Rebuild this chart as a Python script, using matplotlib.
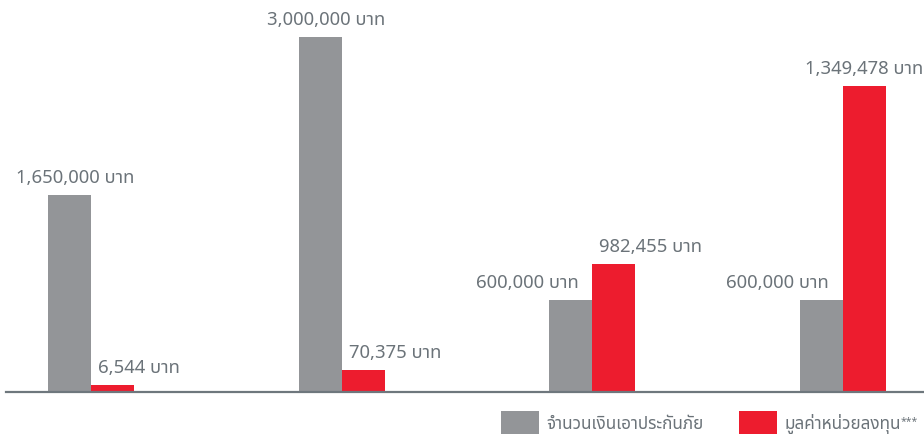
import matplotlib
matplotlib.use("Agg")
import matplotlib.pyplot as plt
from matplotlib import font_manager
from fontTools.ttLib import TTFont

# ข้อมูลจากภาพ
insured = [1650000, 3000000, 600000, 600000]       # จำนวนเงินเอาประกันภัย
unit_value = [6544, 70375, 982455, 1349478]         # มูลค่าหน่วยลงทุน
# ความสูงของแท่งตามที่วาดในภาพต้นฉบับ (ไม่ได้เป็นสัดส่วนจริง)
insured_drawn = [1665000, 3000000, 777000, 777000]
unit_drawn = [60000, 186000, 1082000, 2586000]
legend_labels = ["จำนวนเงินเอาประกันภัย", "มูลค่าหน่วยลงทุน"]
legend_note = "***"


def find_thai_font():
    names = []
    for f in font_manager.fontManager.ttflist:
        try:
            cmap = TTFont(f.fname, fontNumber=0, lazy=True).getBestCmap()
        except Exception:
            continue
        if cmap and 0x0E1A in cmap:
            names.append(f.name)
    # ชอบแบบไม่มีหัว (loopless) ก่อน
    for pref in ['Noto Sans Thai', 'Noto Sans Thai UI', 'Kanit', 'Prompt', 'Sarabun',
                 'Waree', 'Loma', 'Garuda']:
        if pref in names:
            return pref
    return names[0] if names else None


thai = find_thai_font()
plt.rcParams['font.family'] = ['Noto Sans'] + ([thai] if thai else []) + ['DejaVu Sans']

GREY = '#939598'
RED = '#ED1C2E'
TEXT = '#6B7379'

fig = plt.figure(figsize=(9.24, 4.35), dpi=100)
ax = fig.add_axes([0, 42 / 435, 1, 393 / 435])

x = list(range(len(insured)))
w = 43 / 250.7
ax.bar([i - w / 2 for i in x], insured_drawn, width=w, color=GREY, label=legend_labels[0])
ax.bar([i + w / 2 for i in x], unit_drawn, width=w, color=RED, label=legend_labels[1])

ax.set_xlim(-91 / 250.7, (924 - 91) / 250.7)
ax.set_ylim(0, 3000000 * 393 / 355)
ax.axis('off')

# เส้นฐาน
ax.axhline(0, xmin=6 / 924, xmax=1, color='#6E777D', lw=1.6, clip_on=False)


def fmt(v):
    return f"{v:,} บาท"


grey_ha = ['center', 'center', 'right', 'right']
red_ha = ['left', 'left', 'left', 'center']
shift = {'center': 0, 'left': 5, 'right': -10}

for i in x:
    ax.annotate(fmt(insured[i]), (i - w / 2 if grey_ha[i] == 'center' else i, insured_drawn[i]),
                xytext=(shift[grey_ha[i]] + (4 if grey_ha[i] == 'center' else 0), 9.5),
                textcoords='offset points',
                ha=grey_ha[i], va='baseline', fontsize=13.3, color=TEXT)
    ax.annotate(fmt(unit_value[i]), (i + w / 2 if red_ha[i] == 'center' else i, unit_drawn[i]),
                xytext=(shift[red_ha[i]], 9.5), textcoords='offset points',
                ha=red_ha[i], va='baseline', fontsize=13.3, color=TEXT)

leg = fig.legend(loc='lower left', bbox_to_anchor=(501 / 924, 0.0), ncol=2, frameon=False,
                 fontsize=12.3, labelcolor=TEXT, handlelength=2.2, handleheight=1.7,
                 handletextpad=0.45, columnspacing=2.1, borderpad=0, borderaxespad=0)

# ดอกจันตัวเล็กต่อท้ายคำอธิบาย
fig.canvas.draw()
bb = leg.get_texts()[1].get_window_extent().transformed(fig.transFigure.inverted())
fig.text(bb.x1 - 0.001, bb.y1 - 0.004, legend_note, fontsize=7.5, color=TEXT, ha='left', va='top')

fig.savefig('out.png', dpi=100)
